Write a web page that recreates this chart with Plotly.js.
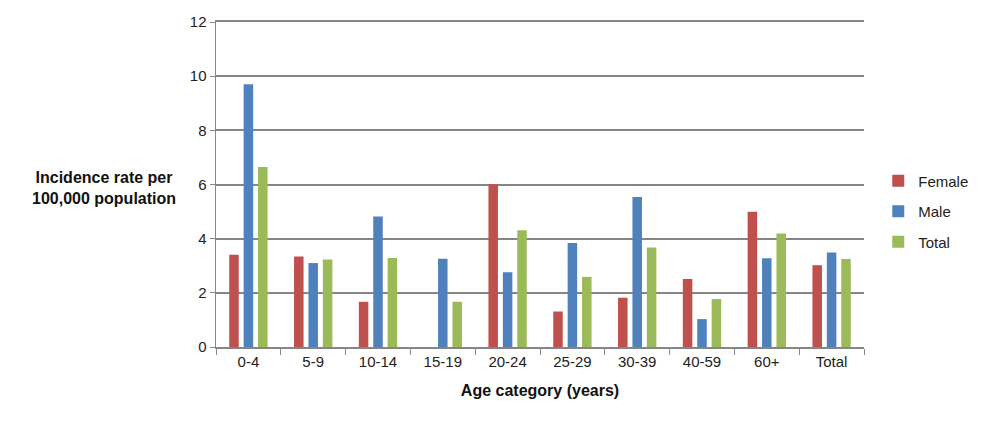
<!DOCTYPE html>
<html><head><meta charset="utf-8">
<script src="https://cdn.plot.ly/plotly-3.0.1.min.js"></script>
<style>body{margin:0;background:#fff}#c{width:982px;height:425px}</style>
</head><body><div id="c"></div>
<script>
const categories = ["0-4","5-9","10-14","15-19","20-24","25-29","30-39","40-59","60+","Total"];
const female = [3.41,3.34,1.67,0,6.01,1.31,1.82,2.51,4.99,3.02];
const male   = [9.70,3.10,4.82,3.26,2.76,3.84,5.54,1.03,3.28,3.49];
const total  = [6.65,3.23,3.29,1.67,4.31,2.59,3.67,1.77,4.19,3.25];
const seriesNames = ["Female","Male","Total"];
const colors = ["#C0504D","#4F81BD","#9BBB59"];
const yTicks = [0,2,4,6,8,10,12];

const data = [female, male, total].map((v,i)=>({
  type:"bar", x:categories, y:v, name:seriesNames[i], legendgroup:"g"+i,
  marker:{color:colors[i]}
}));
const font = {family:"Liberation Sans, Arial, sans-serif", size:15, color:"#222"};
const layout = {
  width:982, height:425,
  margin:{l:216, r:118, t:22, b:78, autoexpand:false},
  paper_bgcolor:"#fff", plot_bgcolor:"#fff",
  font:font,
  barmode:"group", bargap:0.333, bargroupgap:0.34,
  xaxis:{
    type:"category", tickson:"boundaries", ticks:"outside", ticklen:6, tickcolor:"#888",
    showline:true, mirror:true, linecolor:"#858585", linewidth:2, showgrid:false,
    tickfont:font,
    title:{text:"<b>Age category (years)</b>", font:{family:font.family,size:16,color:"#111"}, standoff:16}
  },
  yaxis:{
    range:[0,12], tickvals:yTicks, ticks:"outside", ticklen:5, tickcolor:"#888",
    showline:true, linecolor:"#888", linewidth:1.5,
    showgrid:true, gridcolor:"#858585", gridwidth:2, zeroline:false,
    tickfont:font
  },
  legend:{x:1.022, y:0.417, xanchor:"left", yanchor:"middle", font:font, tracegroupgap:8, itemwidth:30, traceorder:"grouped"},
  annotations:[{
    text:"<b>Incidence rate per<br>100,000 population</b>", xref:"paper", yref:"paper",
    x:-0.173, y:0.49, xanchor:"center", yanchor:"middle", showarrow:false,
    font:{family:font.family,size:16,color:"#111"}, align:"center"
  }]
};
Plotly.newPlot("c", data, layout, {displayModeBar:false, staticPlot:true});
</script></body></html>
